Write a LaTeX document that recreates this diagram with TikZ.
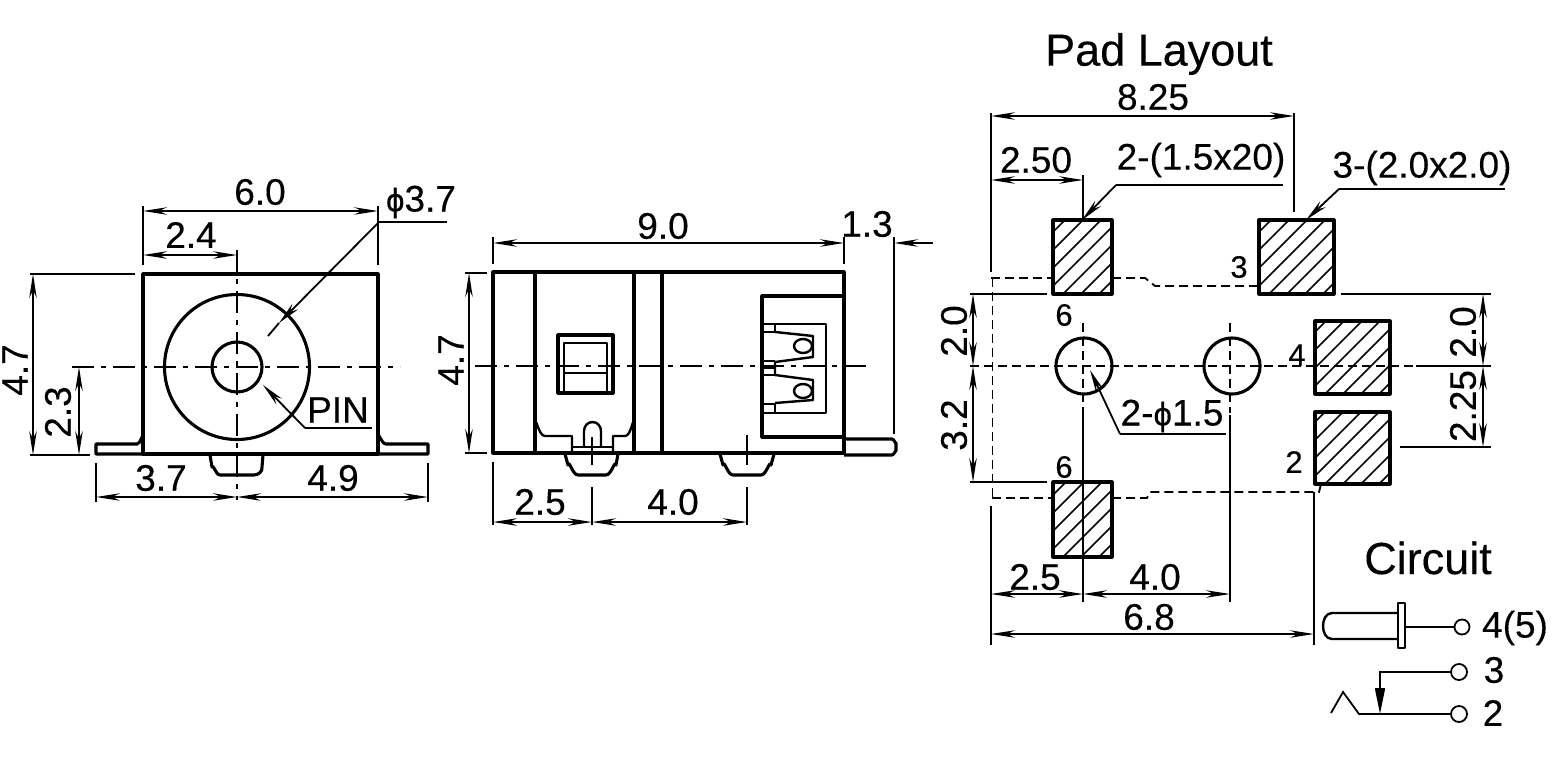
\documentclass[tikz,border=0pt]{standalone}
\usepackage{fontspec}
\setmainfont[FakeBold=0.25]{Liberation Sans}
\usetikzlibrary{arrows.meta}
\tikzset{
  body/.style={line width=3.1pt,line join=round},
  thinbody/.style={line width=2.4pt,line join=round},
  extline/.style={line width=1.6pt},
  dimline/.style={line width=1.6pt,{Stealth[length=24pt,width=7.5pt]}-{Stealth[length=24pt,width=7.5pt]}},
  leader/.style={line width=1.8pt,-{Stealth[length=23pt,width=8pt]}},
  axis/.style={line width=1.5pt,dash pattern=on 22pt off 7pt on 5pt off 7pt},
  hidden/.style={line width=1.8pt,dash pattern=on 9pt off 5pt},
  dimlabel/.style={font=\fontsize{37}{37}\selectfont,inner sep=0pt},
  pinlabel/.style={font=\fontsize{31}{31}\selectfont,inner sep=0pt},
  titlelabel/.style={font=\fontsize{45}{45}\selectfont,inner sep=0pt},
}
% hatched pad: corners, spacing of the hatch fixed
\newcommand{\hatchpad}[4]{%
  \begin{scope}
    \clip (#1,#2) rectangle (#3,#4);
    \foreach \hx in {-80,-62,...,140}
      \draw[line width=1.6pt] (#1+\hx,#4) -- ++(90,-90);
  \end{scope}
  \draw[body] (#1,#2) rectangle (#3,#4);
}
\begin{document}
\begin{tikzpicture}[x=1pt,y=-1pt]
\useasboundingbox (0,0) rectangle (1568,756);

% front view
\draw[body] (143,274) rectangle (378,454);
\draw[body] (143,436) to[out=-90+180,in=0] (137,444) -- (96,444) -- (96,454) -- (428,454) -- (428,444) -- (386,444) to[out=180,in=90] (378,436);
\draw[body] (237,367) circle (72.5);
\draw[body] (237,367) circle (25);
\draw[body] (210,455) -- (212,467) to[out=-90+170,in=180] (220,475) -- (254,475) to[out=0,in=-80] (262,467) -- (263,455);
\draw[axis] (72,367) -- (400,367);
\draw[axis] (237,250) -- (237,500);
\draw[extline] (143,206) -- (143,265);
\draw[extline] (378,206) -- (378,265);
\draw[extline] (30,274) -- (135,274);
\draw[extline] (30,455) -- (90,455);
\draw[extline] (96,463) -- (96,502);
\draw[extline] (428,463) -- (428,502);
\draw[dimline] (143,211) -- (378,211);
\draw[dimline] (143,255) -- (237,255);
\draw[dimline] (33,274) -- (33,455);
\draw[dimline] (79,367) -- (79,455);
\draw[dimline] (96,497) -- (237,497);
\draw[dimline] (237,497) -- (428,497);
\draw[line width=1.8pt] (447,222) -- (379,222);
\draw[leader] (379,222) -- (279,323);
\draw[line width=1.8pt] (279,323) -- (268,336);
\draw[line width=1.8pt] (372,428) -- (305,428);
\draw[leader] (305,428) -- (263,385);
\node[dimlabel] (frontwidth) at (260,192) {6.0};
\node[dimlabel] (frontoffset) at (191,235) {2.4};
\node[dimlabel,rotate=90] (frontheight) at (15,370) {4.7};
\node[dimlabel,rotate=90] (frontaxis) at (58,412) {2.3};
\node[dimlabel] (frontleft) at (161,478) {3.7};
\node[dimlabel] (frontright) at (333,478) {4.9};
\node[dimlabel] (jackdia) at (421,202) {{\fontsize{33}{33}\selectfont ϕ}3.7};
\node[dimlabel] (pinname) at (338,410) {PIN};

% side view
\draw[body] (493,272) rectangle (844,453);
\draw[body] (535,272) -- (535,453);
\draw[body] (634,272) -- (634,453);
\draw[body] (662,272) -- (662,453);
\draw[body] (558,335) rectangle (613,393);
\draw[thinbody] (564,393) -- (564,343) -- (607,343) -- (607,393);
\draw[thinbody] (564,373) -- (607,373);
\draw[thinbody] (535,423) to[out=80,in=180] (545,436) -- (572,436) -- (572,453);
\draw[thinbody] (634,423) to[out=100,in=0] (625,436) -- (613,436) -- (613,453);
\draw[thinbody] (584,447) -- (584,431) to[out=90,in=180] (592.5,422) to[out=0,in=90] (601,431) -- (601,447);
\draw[thinbody] (572,447) -- (613,447);
\draw[body] (565,454) -- (568,465) to[out=75,in=180] (578,475) -- (606,475) to[out=0,in=105] (616,465) -- (618,454);
\draw[body] (720,454) -- (723,465) to[out=75,in=180] (733,475) -- (761,475) to[out=0,in=105] (771,465) -- (774,454);
\draw[body] (844,296) -- (762,296) -- (762,437) -- (844,437);
\draw[thinbody] (762,324) -- (826,324) -- (826,413) -- (762,413);
\draw[thinbody] (775,332) -- (813,336) -- (813,357) -- (775,362) -- (775,375) -- (813,380) -- (813,400) -- (775,403);
\draw[thinbody] (762,332) -- (775,332) (775,324) -- (775,332);
\draw[thinbody] (762,361) -- (775,361) (762,368) -- (775,368) (762,375) -- (775,375);
\draw[thinbody] (762,404) -- (775,404) (775,404) -- (775,413);
\draw[thinbody] (803,346) ellipse (9 and 7);
\draw[thinbody] (803,391) ellipse (9 and 7);
\draw[body] (844,439) -- (892,439) to[out=0,in=-90] (896,443) -- (896,451) to[out=90,in=0] (892,455) -- (844,455);
\draw[axis] (475,366) -- (868,366);
\draw[extline] (592,437) -- (592,465);
\draw[extline] (747,435) -- (747,465);
\draw[extline] (493,237) -- (493,264);
\draw[extline] (844,237) -- (844,264);
\draw[extline] (894,237) -- (894,434);
\draw[extline] (465,273) -- (487,273);
\draw[extline] (465,453) -- (487,453);
\draw[extline] (493,462) -- (493,525);
\draw[extline] (592,487) -- (592,525);
\draw[extline] (747,487) -- (747,525);
\draw[dimline] (493,243) -- (844,243);
\draw[line width=1.6pt,{Stealth[length=24pt,width=7.5pt]}-] (894,243) -- (933,243);
\draw[dimline] (469,273) -- (469,453);
\draw[dimline] (493,522) -- (592,522);
\draw[dimline] (592,522) -- (747,522);
\node[dimlabel] (sidelength) at (663,226) {9.0};
\node[dimlabel] (sidepin) at (867,224) {1.3};
\node[dimlabel,rotate=90] (sideheight) at (451,360) {4.7};
\node[dimlabel] (sideleft) at (540,502) {2.5};
\node[dimlabel] (sidepitch) at (673,502) {4.0};

% pad layout
\node[titlelabel] (padtitle) at (1159,54) {Pad Layout};
\hatchpad{1053}{220}{1112}{294}
\hatchpad{1259}{220}{1334}{294}
\hatchpad{1315}{321}{1390}{394}
\hatchpad{1315}{412}{1390}{484}
\hatchpad{1053}{482}{1112}{557}
\draw[body] (1084,366) circle (28);
\draw[body] (1232,366) circle (28);
\draw[hidden] (991,278) -- (1053,278);
\draw[hidden] (1112,278) -- (1145,278) -- (1155,286) -- (1258,286);
\draw[hidden] (992.5,278) -- (992.5,498);
\draw[hidden] (992,498) -- (1053,498);
\draw[hidden] (1112,498) -- (1147,498) -- (1150,492) -- (1319,492) -- (1321,484);
\draw[hidden] (970,366) -- (1416,366);
\draw[extline] (1416,366) -- (1491,366);
\draw[hidden] (1083,323) -- (1083,413);
\draw[hidden] (1230,323) -- (1230,413);
\draw[extline] (1083,413) -- (1083,602);
\draw[extline] (1230,415) -- (1230,602);
\draw[extline] (991,113) -- (991,272);
\draw[extline] (1294,113) -- (1294,212);
\draw[extline] (1083,175) -- (1083,220);
\draw[extline] (970,294) -- (1047,294);
\draw[extline] (1341,294) -- (1491,294);
\draw[extline] (970,482) -- (1047,482);
\draw[extline] (1400,447) -- (1491,447);
\draw[extline] (991,506) -- (991,645);
\draw[extline] (1314,492) -- (1314,645);
\draw[dimline] (991,116) -- (1294,116);
\draw[dimline] (991,180) -- (1083,180);
\draw[dimline] (973,294) -- (973,366);
\draw[dimline] (973,366) -- (973,482);
\draw[dimline] (1483,294) -- (1483,366);
\draw[dimline] (1483,366) -- (1483,447);
\draw[dimline] (991,594) -- (1083,594);
\draw[dimline] (1083,594) -- (1230,594);
\draw[dimline] (991,634) -- (1314,634);
\draw[line width=1.8pt] (1283,185) -- (1116,185);
\draw[leader] (1116,185) -- (1082,220);
\draw[line width=1.8pt] (1505,189) -- (1339,189);
\draw[leader] (1339,189) -- (1306,220);
\draw[line width=1.8pt] (1226,434) -- (1120,434);
\draw[leader] (1120,434) -- (1090,370);
\node[dimlabel] (padspan) at (1153,97) {8.25};
\node[dimlabel] (padoffset) at (1036,160) {2.50};
\node[dimlabel] (slotsize) at (1201,160) {2-(1.5x20)};
\node[dimlabel] (squaresize) at (1422,168) {3-(2.0x2.0)};
\node[dimlabel,rotate=90] (leftupper) at (954,331) {2.0};
\node[dimlabel,rotate=90] (leftlower) at (954,425) {3.2};
\node[dimlabel,rotate=90] (rightupper) at (1463,332) {2.0};
\node[dimlabel,rotate=90] (rightlower) at (1463,406) {2.25};
\node[dimlabel] (holesize) at (1172,416) {2-{\fontsize{33}{33}\selectfont ϕ}1.5};
\node[dimlabel] (holeoffset) at (1035,577) {2.5};
\node[dimlabel] (holepitch) at (1155,577) {4.0};
\node[dimlabel] (padwidth) at (1149,617) {6.8};
\node[pinlabel] (pinsixa) at (1064,315) {6};
\node[pinlabel] (pinsixb) at (1064,467) {6};
\node[pinlabel] (pinthree) at (1239,267) {3};
\node[pinlabel] (pinfour) at (1297,355) {4};
\node[pinlabel] (pintwo) at (1294,462) {2};

% circuit
\node[titlelabel] (circuittitle) at (1428,558) {Circuit};
\draw[thinbody] (1398,613) -- (1332,613) to[out=180,in=90] (1323,626) to[out=-90,in=180] (1332,639) -- (1398,639);
\draw[thinbody] (1398,603) rectangle (1405,648);
\node[draw,circle,line width=1.8pt,minimum size=15pt,inner sep=0pt] (termfour) at (1462,627) {};
\node[draw,circle,line width=1.8pt,minimum size=16pt,inner sep=0pt] (termthree) at (1459,672) {};
\node[draw,circle,line width=1.8pt,minimum size=16pt,inner sep=0pt] (termtwo) at (1459,714) {};
\coordinate (sleeve) at (1405,627);
\coordinate (switchtop) at (1380,672);
\coordinate (switchtip) at (1380,714);
\coordinate (nose) at (1359,714);
\draw[line width=1.8pt] (sleeve) -- (termfour);
\draw[line width=1.8pt,-{Stealth[length=26pt,width=10pt,inset=0pt]}] (termthree) -- (switchtop) -- (switchtip);
\draw[line width=1.8pt] (termtwo) -- (nose) -- (1343,692) -- (1331,713);
\node[dimlabel] (labelfour) at (1515,628) {4(5)};
\node[dimlabel] (labelthree) at (1494,670) {3};
\node[dimlabel] (labeltwo) at (1493,713) {2};
\end{tikzpicture}
\end{document}
